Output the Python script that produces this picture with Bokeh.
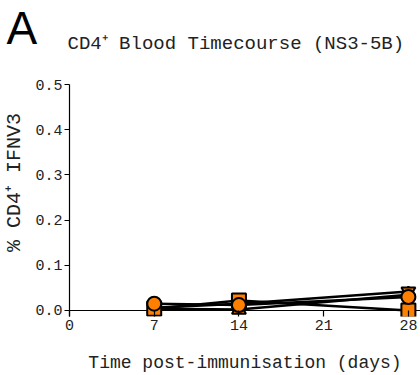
from bokeh.plotting import figure
from bokeh.models import Range1d, FixedTicker, Span, PrintfTickFormatter
from bokeh.layouts import column
from bokeh.core.properties import value
from bokeh.embed import file_html
from bokeh.resources import INLINE

# Days post-immunisation and % CD4+ IFN responders per animal
days = [7, 14, 28]
circle_vals = [0.015, 0.012, 0.030]
square_vals = [0.004, 0.022, 0.000]
triangle_vals = [0.004, 0.002, 0.035]
inv_triangle_vals = [0.006, 0.015, 0.042]

x_ticks = [0, 7, 14, 21, 28]
y_ticks = [0.0, 0.1, 0.2, 0.3, 0.4, 0.5]

title_text = "CD4\u207a Blood Timecourse (NS3-5B)"
panel_letter = "A"
x_label = "Time post-immunisation (days)"
# leading no-break spaces nudge the rotated label towards the top of the axis
y_label = "\u00a0\u00a0\u00a0% CD4\u207a IFNV3"

ORANGE = "#FF8000"
MONO = "Liberation Mono"
HEAD_H = 74

# Header strip: panel letter and chart title, one data unit per pixel
head = figure(width=420, height=HEAD_H, output_backend="svg", toolbar_location=None,
              x_range=Range1d(0, 420), y_range=Range1d(0, HEAD_H),
              x_axis_location=None, y_axis_location=None, title=None,
              min_border_left=0, min_border_right=0,
              min_border_top=0, min_border_bottom=0, outline_line_color=None)
head.frame_align = False
head.grid.visible = False
head.text(x=[6], y=[HEAD_H - 27], text=[panel_letter], text_font=value("Liberation Sans"),
          text_font_size="46px", text_color="black", text_baseline="alphabetic")
head.text(x=[67], y=[HEAD_H - 43], text=[title_text], text_font=value(MONO),
          text_font_size="19px", text_color="#222222", text_baseline="alphabetic")

p = figure(width=420, height=375 - HEAD_H, output_backend="svg", toolbar_location=None,
           x_range=Range1d(0, 29), y_range=Range1d(-0.0133, 0.5))
p.frame_align = False
p.min_border_left = 69
p.min_border_right = 0
p.min_border_top = 10
p.min_border_bottom = 59
p.outline_line_color = None
p.background_fill_color = "white"
p.border_fill_color = "white"
p.grid.visible = False

# x axis: the baseline itself is a span at y = 0, ticks hang from it
xa = p.xaxis[0]
xa.ticker = FixedTicker(ticks=x_ticks)
xa.axis_line_color = None
xa.minor_tick_line_color = None
xa.major_tick_in = 6
xa.major_tick_out = 0
xa.major_tick_line_width = 1.2
xa.major_label_text_font = MONO
xa.major_label_text_font_size = "15px"
xa.major_label_text_color = "#222222"
xa.major_label_standoff = 3
xa.axis_label = x_label
xa.axis_label_text_font = MONO
xa.axis_label_text_font_size = "18px"
xa.axis_label_text_font_style = "normal"
xa.axis_label_text_color = "#222222"
xa.axis_label_standoff = 20

ya = p.yaxis[0]
ya.ticker = FixedTicker(ticks=y_ticks)
ya.formatter = PrintfTickFormatter(format="%.1f")
ya.minor_tick_line_color = None
ya.major_tick_in = 0
ya.major_tick_out = 5
ya.axis_line_color = "black"
ya.axis_line_width = 1.2
ya.major_tick_line_width = 1.2
ya.major_label_text_font = MONO
ya.major_label_text_font_size = "15px"
ya.major_label_text_color = "#222222"
ya.major_label_standoff = 2
ya.axis_label = y_label
ya.axis_label_text_font = MONO
ya.axis_label_text_font_size = "20px"
ya.axis_label_text_font_style = "normal"
ya.axis_label_text_color = "#222222"
ya.axis_label_standoff = 6

p.add_layout(Span(location=0, dimension="width", line_color="black",
                  line_width=1.2, level="underlay"))

# drawn back to front: circles end up on top
series = [
    (triangle_vals, "triangle"),
    (inv_triangle_vals, "inverted_triangle"),
    (square_vals, "square"),
    (circle_vals, "circle"),
]
for vals, _ in series:
    p.line(days, vals, line_color="black", line_width=2.5)
for vals, marker in series:
    p.scatter(days, vals, marker=marker, size=14, fill_color=ORANGE,
              line_color="black", line_width=2)

layout = column(head, p, spacing=0)
open("out.html", "w").write(file_html(layout, INLINE))
